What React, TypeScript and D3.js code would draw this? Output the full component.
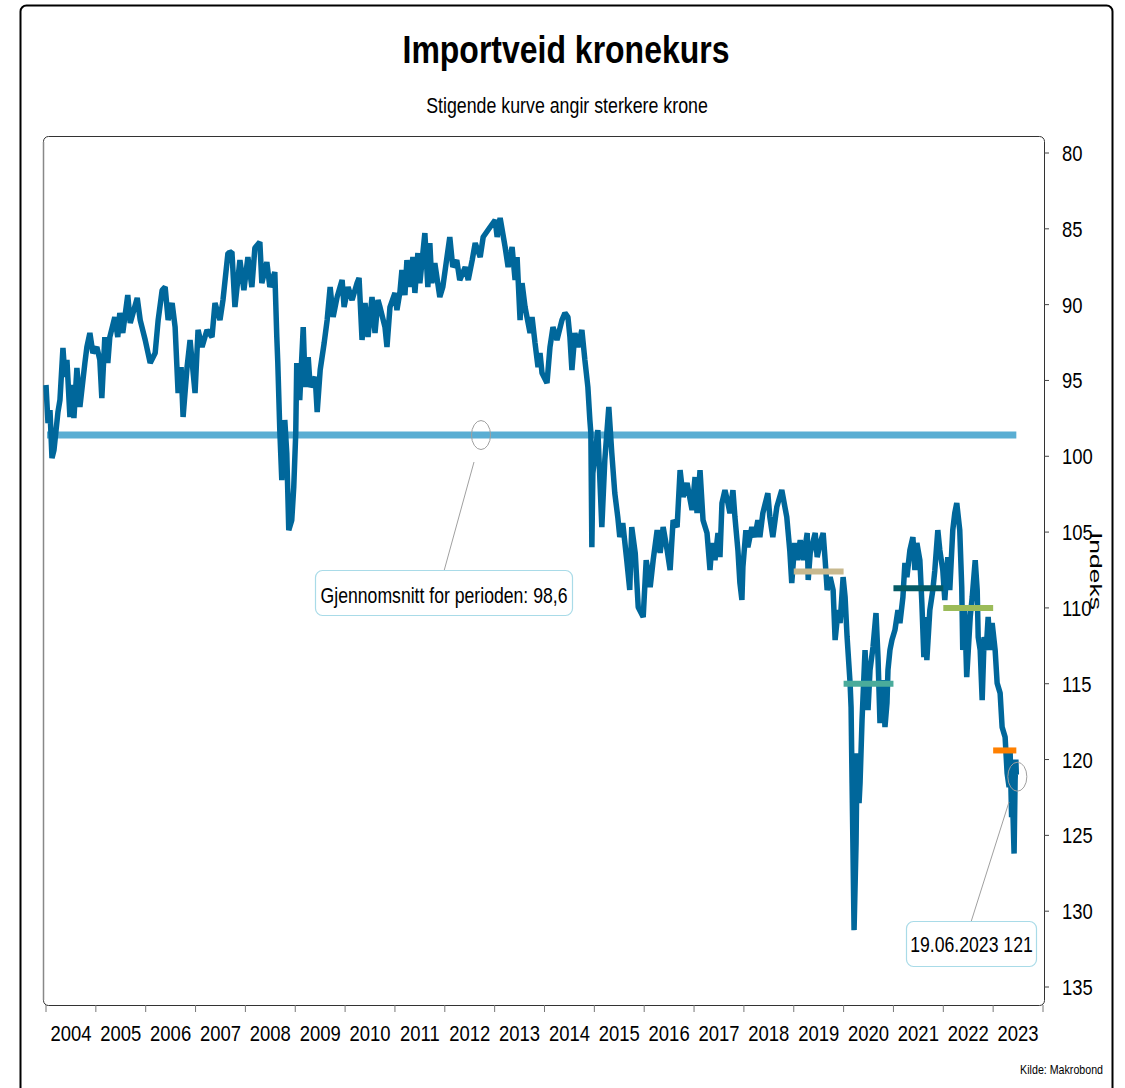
import React from 'react';
import * as d3 from 'd3';

const FONT = "'Liberation Sans', Arial, sans-serif";
const NARROW = 0.82;

const title = 'Importveid kronekurs';
const subtitle = 'Stigende kurve angir sterkere krone';
const yAxisLabel = 'Indeks';
const source = 'Kilde: Makrobond';

const yearTicks = d3.range(2004, 2025);
const yearLabels = d3.range(2004, 2024).map(String);
const yTicks = [80, 85, 90, 95, 100, 105, 110, 115, 120, 125, 130, 135];

const meanValue = 98.6;
const meanLabel = 'Gjennomsnitt for perioden: 98,6';
const lastDate = 2023.465;
const lastValue = 121;
const lastLabel = '19.06.2023 121';

const avgStart = [2019, 2020, 2021, 2022, 2023];
const avgEnd = [2020, 2021, 2022, 2023, 2023.465];
const avgValue = [107.6, 115.0, 108.7, 110.0, 119.4];
const avgColor = ['#c8b98f', '#4aab9b', '#035a66', '#9bbb59', '#ff8000'];

// [decimal year, index value]
const kronekurs: [number, number][] = [
  [2004.0, 95.3], [2004.04, 97.81], [2004.08, 96.95], [2004.12, 100.12], [2004.16, 99.59], [2004.24, 97.08],
  [2004.28, 96.29], [2004.34, 92.86], [2004.38, 94.77], [2004.42, 93.65], [2004.48, 97.41], [2004.52, 95.3],
  [2004.56, 97.48], [2004.62, 94.18], [2004.68, 96.75], [2004.78, 93.85], [2004.82, 92.8], [2004.88, 91.87],
  [2004.94, 93.19], [2005.02, 92.8], [2005.08, 93.65], [2005.12, 96.16], [2005.18, 92.14], [2005.24, 93.85],
  [2005.28, 92.14], [2005.38, 90.82], [2005.44, 92.14], [2005.48, 90.55], [2005.54, 91.87], [2005.64, 89.37],
  [2005.69, 91.21], [2005.83, 89.56], [2005.89, 91.02], [2005.99, 92.33], [2006.09, 93.85], [2006.19, 93.19],
  [2006.25, 91.02], [2006.33, 89.04], [2006.39, 88.84], [2006.45, 91.02], [2006.53, 89.89], [2006.59, 91.48],
  [2006.65, 95.83], [2006.71, 94.12], [2006.75, 97.41], [2006.83, 94.12], [2006.89, 92.33], [2006.99, 95.83],
  [2007.05, 91.67], [2007.13, 92.8], [2007.23, 91.67], [2007.33, 92.14], [2007.39, 89.89], [2007.49, 91.02],
  [2007.55, 89.7], [2007.65, 86.6], [2007.73, 86.53], [2007.79, 90.16], [2007.89, 87.06], [2007.97, 89.04],
  [2008.05, 86.86], [2008.13, 88.84], [2008.19, 86.27], [2008.29, 85.87], [2008.33, 88.58], [2008.43, 87.19],
  [2008.49, 88.84], [2008.59, 87.85], [2008.63, 92.14], [2008.65, 93.85], [2008.69, 98.27], [2008.73, 101.57],
  [2008.79, 97.61], [2008.83, 99.79], [2008.87, 104.87], [2008.93, 104.21], [2008.97, 102.03], [2009.01, 98.47],
  [2009.03, 93.85], [2009.09, 96.29], [2009.16, 91.48], [2009.2, 95.43], [2009.26, 93.46], [2009.3, 95.43],
  [2009.4, 94.77], [2009.44, 97.08], [2009.5, 94.31], [2009.58, 92.53], [2009.64, 91.02], [2009.7, 88.84],
  [2009.76, 90.82], [2009.84, 89.5], [2009.94, 88.38], [2009.98, 90.16], [2010.06, 88.84], [2010.14, 89.7],
  [2010.24, 88.58], [2010.28, 88.24], [2010.34, 92.33], [2010.4, 89.89], [2010.46, 92.14], [2010.54, 89.5],
  [2010.6, 91.87], [2010.66, 89.7], [2010.7, 90.16], [2010.8, 91.48], [2010.84, 92.8], [2010.9, 90.16],
  [2011.0, 89.23], [2011.04, 90.36], [2011.1, 89.17], [2011.14, 87.72], [2011.2, 89.37], [2011.24, 87.06],
  [2011.3, 88.84], [2011.36, 86.86], [2011.4, 89.23], [2011.46, 86.6], [2011.5, 88.58], [2011.6, 85.28],
  [2011.66, 88.84], [2011.7, 85.94], [2011.74, 88.58], [2011.8, 87.26], [2011.9, 89.5], [2011.96, 88.84],
  [2012.1, 85.54], [2012.16, 87.52], [2012.24, 87.06], [2012.3, 88.38], [2012.41, 87.52], [2012.47, 88.38],
  [2012.55, 87.06], [2012.61, 85.94], [2012.71, 86.86], [2012.77, 85.54], [2012.91, 84.88], [2013.01, 84.42],
  [2013.05, 85.54], [2013.11, 84.29], [2013.21, 86.2], [2013.27, 87.52], [2013.35, 86.2], [2013.41, 88.38],
  [2013.45, 86.86], [2013.51, 91.02], [2013.55, 88.58], [2013.61, 90.16], [2013.71, 91.87], [2013.75, 90.82],
  [2013.81, 92.53], [2013.87, 94.12], [2013.91, 93.19], [2013.95, 94.51], [2014.05, 95.17], [2014.11, 92.8],
  [2014.17, 91.48], [2014.25, 92.33], [2014.35, 91.02], [2014.41, 90.55], [2014.47, 90.82], [2014.51, 92.14],
  [2014.55, 94.31], [2014.61, 91.87], [2014.67, 92.8], [2014.75, 91.67], [2014.81, 93.65], [2014.87, 95.43],
  [2014.91, 97.61], [2014.93, 98.47], [2014.95, 105.99], [2014.97, 101.11], [2015.07, 98.27], [2015.15, 104.67],
  [2015.21, 100.25], [2015.29, 96.75], [2015.35, 99.79], [2015.41, 102.43], [2015.47, 104.01], [2015.51, 105.33],
  [2015.57, 104.41], [2015.65, 106.85], [2015.71, 108.82], [2015.75, 104.67], [2015.82, 106.38], [2015.88, 109.95],
  [2015.98, 110.6], [2016.04, 106.85], [2016.12, 108.63], [2016.18, 106.85], [2016.26, 104.87], [2016.32, 106.38],
  [2016.38, 104.67], [2016.46, 106.19], [2016.52, 107.51], [2016.58, 104.21], [2016.66, 104.67], [2016.72, 100.91],
  [2016.78, 102.69], [2016.86, 101.77], [2016.96, 103.55], [2017.02, 101.37], [2017.06, 103.75], [2017.12, 100.91],
  [2017.18, 104.21], [2017.26, 105.06], [2017.32, 107.51], [2017.36, 105.72], [2017.42, 106.85], [2017.48, 105.06],
  [2017.52, 106.65], [2017.56, 103.09], [2017.62, 102.23], [2017.68, 103.09], [2017.72, 103.75], [2017.78, 102.23],
  [2017.82, 104.01], [2017.88, 106.19], [2017.92, 108.36], [2017.96, 109.48], [2017.98, 107.31], [2018.04, 104.87],
  [2018.08, 105.99], [2018.16, 104.67], [2018.22, 105.33], [2018.28, 104.21], [2018.32, 105.33], [2018.38, 103.75],
  [2018.48, 102.43], [2018.52, 104.01], [2018.58, 105.33], [2018.66, 103.35], [2018.76, 102.23], [2018.86, 104.01],
  [2018.92, 106.19], [2018.96, 108.36], [2019.02, 105.72], [2019.07, 106.85], [2019.13, 105.53], [2019.19, 106.85],
  [2019.27, 105.06], [2019.29, 108.16], [2019.33, 106.38], [2019.43, 105.06], [2019.47, 106.65], [2019.53, 105.72],
  [2019.59, 105.06], [2019.63, 106.85], [2019.67, 108.82], [2019.73, 107.97], [2019.79, 108.82], [2019.83, 112.12],
  [2019.89, 110.14], [2019.93, 111.0], [2019.99, 107.97], [2020.03, 109.29], [2020.07, 111.92], [2020.13, 114.96],
  [2020.15, 116.54], [2020.17, 121.55], [2020.21, 131.25], [2020.25, 125.51], [2020.27, 119.58], [2020.31, 122.87],
  [2020.33, 121.55], [2020.37, 117.4], [2020.43, 112.78], [2020.49, 116.74], [2020.53, 114.1], [2020.59, 112.58],
  [2020.65, 110.34], [2020.69, 113.24], [2020.73, 117.6], [2020.79, 114.76], [2020.83, 117.86], [2020.87, 116.28],
  [2020.89, 114.1], [2020.93, 112.78], [2020.97, 112.12], [2021.03, 111.46], [2021.09, 110.14], [2021.13, 111.0],
  [2021.19, 109.29], [2021.23, 107.04], [2021.27, 107.97], [2021.33, 106.19], [2021.39, 105.33], [2021.43, 107.51],
  [2021.47, 105.72], [2021.53, 106.85], [2021.57, 109.68], [2021.61, 113.24], [2021.65, 110.6], [2021.67, 113.44],
  [2021.73, 110.14], [2021.79, 108.82], [2021.83, 107.51], [2021.89, 104.87], [2021.93, 106.19], [2021.99, 107.51],
  [2022.03, 109.48], [2022.09, 106.65], [2022.13, 108.82], [2022.19, 104.87], [2022.23, 103.75], [2022.27, 103.09],
  [2022.33, 104.87], [2022.37, 108.63], [2022.39, 112.78], [2022.43, 110.14], [2022.47, 114.56], [2022.54, 110.6],
  [2022.58, 109.29], [2022.64, 106.85], [2022.68, 108.82], [2022.7, 111.92], [2022.74, 112.78], [2022.78, 116.08],
  [2022.82, 111.92], [2022.86, 112.78], [2022.9, 110.6], [2022.94, 112.78], [2022.98, 111.0], [2023.04, 112.78],
  [2023.08, 114.96], [2023.14, 115.62], [2023.18, 117.86], [2023.24, 118.52], [2023.28, 120.9], [2023.32, 121.82],
  [2023.34, 119.38], [2023.37, 123.8], [2023.39, 122.7], [2023.42, 126.2], [2023.44, 121.4], [2023.455, 120.0],
  [2023.465, 121.0],
];

const W = 1125;
const H = 1088;

type NTProps = {
  x: number;
  y: number;
  size: number;
  anchor?: 'start' | 'middle' | 'end';
  weight?: string;
  children: React.ReactNode;
};

function NText({ x, y, size, anchor = 'start', weight = 'normal', children }: NTProps) {
  return (
    <text
      transform={`translate(${x},${y}) scale(${NARROW},1)`}
      textAnchor={anchor}
      fontSize={size}
      fontWeight={weight}
      fill="#000"
    >
      {children}
    </text>
  );
}

export default function App() {
  const x = d3.scaleLinear().domain([2004, 2024]).range([46, 1043]);
  const y = d3.scaleLinear().domain([80, 135]).range([153, 987]);
  const line = d3
    .line<[number, number]>()
    .x((d) => x(d[0]))
    .y((d) => y(d[1]));

  const frameL = 43, frameT = 136, frameR = 1044, frameB = 1005;
  const meanY = y(meanValue);
  const meanCx = 481;
  const lastCx = x(lastDate) + 1;
  const lastCy = y(lastValue) + 2;

  return (
    <svg
      width={W}
      height={H}
      style={{ position: 'absolute', left: 0, top: 0, display: 'block', background: '#fff' }}
      fontFamily={FONT}
    >
      {/* outer frame */}
      <rect x={20.5} y={5.5} width={1092} height={1100} rx={6} fill="#fff" stroke="#000" strokeWidth={2} />
      <NText x={566} y={63} size={39} weight="bold" anchor="middle">
        {title}
      </NText>
      <NText x={567} y={113} size={21.7} anchor="middle">
        {subtitle}
      </NText>

      {/* plot frame */}
      <rect
        x={frameL + 0.5}
        y={frameT + 0.5}
        width={frameR - frameL}
        height={frameB - frameT}
        rx={5}
        fill="none"
        stroke="#333"
        strokeWidth={1}
      />
      <line x1={frameL + 0.5} x2={frameL + 0.5} y1={frameT + 6} y2={frameB - 5} stroke="#888" strokeWidth={1.5} />

      {/* y axis */}
      {yTicks.map((t) => (
        <g key={t}>
          <line x1={frameR} x2={frameR + 5} y1={y(t)} y2={y(t)} stroke="#444" strokeWidth={1} />
          <NText x={1062} y={y(t) + 8} size={22.5}>
            {t}
          </NText>
        </g>
      ))}
      <text
        transform="translate(1090, 571) rotate(90)"
        textAnchor="middle"
        fontSize={17}
        textLength={78}
        lengthAdjust="spacingAndGlyphs"
        fill="#000"
      >
        {yAxisLabel}
      </text>

      {/* x axis */}
      {yearTicks.map((t) => (
        <line key={t} x1={x(t)} x2={x(t)} y1={frameB} y2={frameB + 7} stroke="#777" strokeWidth={1} />
      ))}
      {yearLabels.map((l, i) => (
        <NText key={l} x={x(2004 + i + 0.5)} y={1041} size={22.5} anchor="middle">
          {l}
        </NText>
      ))}

      {/* mean line */}
      <line
        x1={x(2004.02)}
        x2={x(lastDate)}
        y1={meanY}
        y2={meanY}
        stroke="#5aaed3"
        strokeWidth={7}
      />

      {/* series */}
      <path d={line(kronekurs) || ''} fill="none" stroke="#00679b" strokeWidth={5.5} strokeLinejoin="bevel" />

      {/* yearly averages */}
      {avgValue.map((v, i) => (
        <line
          key={i}
          x1={x(avgStart[i])}
          x2={x(avgEnd[i])}
          y1={y(v)}
          y2={y(v)}
          stroke={avgColor[i]}
          strokeWidth={6}
        />
      ))}

      {/* mean annotation */}
      <ellipse cx={meanCx} cy={meanY} rx={9.5} ry={14.5} fill="none" stroke="#a0a0a0" strokeWidth={1} />
      <line x1={474} y1={462} x2={444} y2={571} stroke="#a0a0a0" strokeWidth={1} />
      <rect x={315.5} y={570.5} width={257} height={45} rx={7} fill="#fff" stroke="#a9dbe8" strokeWidth={1.2} />
      <NText x={444} y={603} size={21.5} anchor="middle">
        {meanLabel}
      </NText>

      {/* last value annotation */}
      <ellipse cx={lastCx} cy={lastCy} rx={9.5} ry={14.5} fill="none" stroke="#a0a0a0" strokeWidth={1} />
      <line x1={1009} y1={802} x2={971} y2={922} stroke="#a0a0a0" strokeWidth={1} />
      <rect x={906.5} y={921.5} width={130} height={45} rx={7} fill="#fff" stroke="#a9dbe8" strokeWidth={1.2} />
      <NText x={971.5} y={952} size={21.5} anchor="middle">
        {lastLabel}
      </NText>

      <NText x={1103} y={1074} size={13} anchor="end">
        {source}
      </NText>
    </svg>
  );
}
